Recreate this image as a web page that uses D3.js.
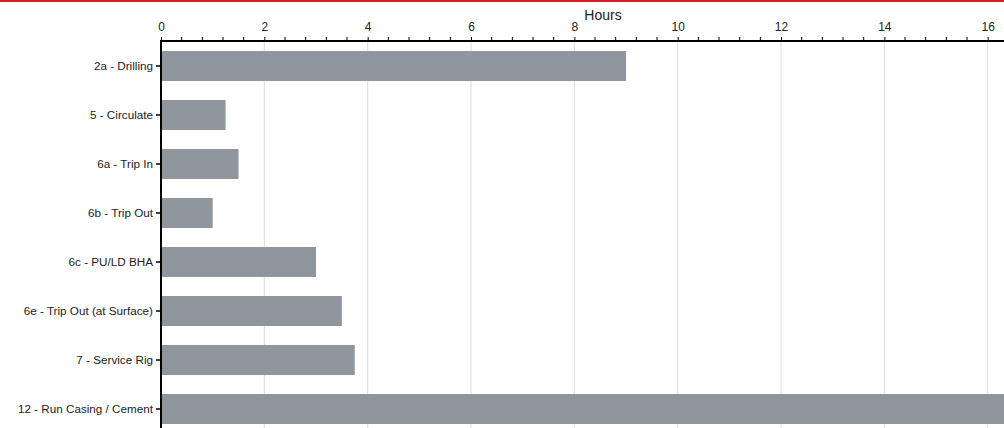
<!DOCTYPE html>
<html><head><meta charset="utf-8">
<script src="https://cdn.jsdelivr.net/npm/d3@7"></script>
<style>
html,body{margin:0;padding:0;background:#fff;}
svg{display:block;font-family:"Liberation Sans",Arial,sans-serif;}
</style></head>
<body>
<svg id="c" width="1004" height="428"></svg>
<script>
const categories = ["2a - Drilling","5 - Circulate","6a - Trip In","6b - Trip Out","6c - PU/LD BHA","6e - Trip Out (at Surface)","7 - Service Rig","12 - Run Casing / Cement"];
const hours = [9, 1.25, 1.5, 1, 3, 3.5, 3.75, 17];
const majorTicks = [0,2,4,6,8,10,12,14,16];
const axisTitle = "Hours";

const svg = d3.select("#c");
svg.append("rect").attr("x",0).attr("y",0).attr("width",1004).attr("height",2).attr("fill","#d81e2c");

const x0 = 161, axisY = 41;
const x = d3.scaleLinear().domain([0,16]).range([x0, 987.7]);
const y = d3.scaleBand().domain(categories).range([axisY, 434]).paddingInner(0.388).paddingOuter(0.204);

// grid
svg.append("g").selectAll("line").data(majorTicks.filter(d=>d>0)).join("line")
  .attr("x1",d=>x(d)).attr("x2",d=>x(d)).attr("y1",axisY).attr("y2",428)
  .attr("stroke","#dcdcdc").attr("stroke-width",1);

// bars
svg.append("g").selectAll("rect").data(hours).join("rect")
  .attr("x",x(0)).attr("y",(d,i)=>y(categories[i]))
  .attr("width",d=>x(d)-x(0)).attr("height",y.bandwidth())
  .attr("fill","#8f969d");

// top axis
const minor = d3.range(0, 16.5, 0.4).filter(v=>Math.abs(v/2-Math.round(v/2))>1e-6);
const gx = svg.append("g").attr("transform",`translate(0,${axisY})`);
gx.call(d3.axisTop(x).tickValues(majorTicks).tickFormat(d3.format("d")).tickSize(4).tickPadding(6))
  .call(g=>g.select(".domain").remove());
gx.selectAll(".tick text").attr("font-size",12).attr("fill","#222").attr("font-family","'Liberation Sans',Arial,sans-serif");
gx.selectAll(".tick line").attr("stroke","#000");
gx.append("g").selectAll("line").data(minor).join("line")
  .attr("x1",d=>x(d)).attr("x2",d=>x(d)).attr("y1",0).attr("y2",-4).attr("stroke","#000");
gx.append("line").attr("x1",x0-1).attr("x2",1004).attr("y1",0).attr("y2",0).attr("stroke","#000").attr("stroke-width",2);

svg.append("text").attr("x",603).attr("y",20).attr("text-anchor","middle")
  .attr("font-size",14).attr("fill","#222").text(axisTitle);

// left axis
const gy = svg.append("g").attr("transform",`translate(${x0},0)`);
gy.call(d3.axisLeft(y).tickSize(5).tickPadding(3)).call(g=>g.select(".domain").remove());
gy.selectAll(".tick text").attr("font-size",11.7).attr("fill","#222").attr("font-family","'Liberation Sans',Arial,sans-serif");
gy.selectAll(".tick line").attr("stroke","#000").attr("stroke-width",1.5);
gy.append("line").attr("x1",0).attr("x2",0).attr("y1",axisY-1).attr("y2",428).attr("stroke","#000").attr("stroke-width",2);
</script>
</body></html>
